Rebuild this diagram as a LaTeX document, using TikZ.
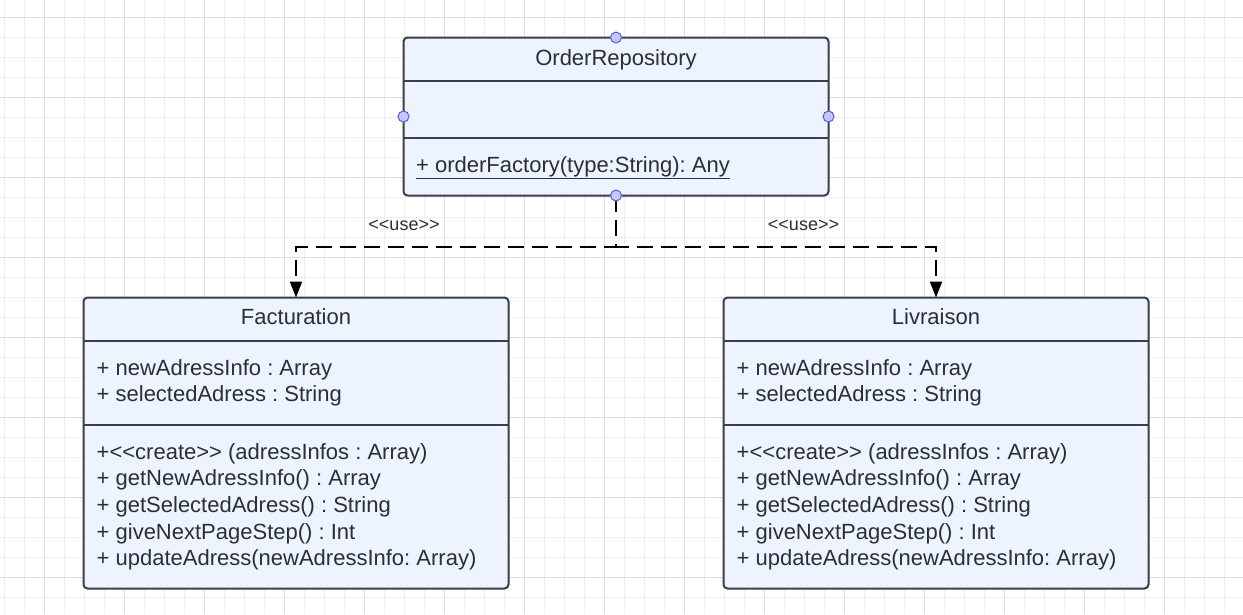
\documentclass[tikz,border=0pt]{standalone}
\usepackage{fontspec}
\setmainfont{Liberation Sans}[Ligatures=TeXOff]
\usetikzlibrary{arrows.meta}
\definecolor{boxfill}{HTML}{EDF4FF}
\definecolor{boxline}{HTML}{3A3F47}
\definecolor{txt}{HTML}{2B2E33}
\definecolor{gridminor}{HTML}{EEEEEE}
\definecolor{gridmajor}{HTML}{DDDDDD}
\definecolor{portfill}{HTML}{C5C5FF}
\definecolor{portline}{HTML}{5B5BDB}
\frenchspacing
\begin{document}
\frenchspacing
\begin{tikzpicture}[x=1pt,y=-1pt,
  classbox/.style={draw=boxline, fill=boxfill, line width=2pt, rounded corners=4pt,
    rectangle, minimum width=425pt, inner sep=0pt, outer sep=0pt, anchor=north west},
  divider/.style={draw=boxline, line width=1.6pt},
  member/.style={anchor=base west, inner sep=0pt, font=\fontsize{22}{26}\selectfont\frenchspacing, text=txt},
  ctitle/.style={anchor=base, inner sep=0pt, font=\fontsize{22}{26}\selectfont, text=txt},
  port/.style={circle, draw=portline, fill=portfill, line width=1pt, minimum size=11pt, inner sep=0pt},
  uses/.style={draw=black, line width=2pt, dash pattern=on 16pt off 8pt,
    -{Triangle[length=16pt,width=12pt]}},
  stereo/.style={font=\fontsize{18}{20}\selectfont, text=txt, inner sep=0pt}
]
\useasboundingbox (0,0) rectangle (1243,614);
\fill[white] (0,0) rectangle (1243,614);
% grid
\foreach \x in {4,24,...,1243} \draw[gridminor, line width=1pt] (\x,0) -- (\x,614);
\foreach \y in {17,37,...,614} \draw[gridminor, line width=1pt] (0,\y) -- (1243,\y);
\foreach \x in {44,124,...,1243} \draw[gridmajor, line width=1pt] (\x,0) -- (\x,614);
\foreach \y in {17,97,...,614} \draw[gridmajor, line width=1pt] (0,\y) -- (1243,\y);

% OrderRepository
\node[classbox, minimum height=158pt] (repo) at (403.5,37.5) {};
\draw[divider] (repo.west |- 0,80.7) -- (repo.east |- 0,80.7);
\draw[divider] (repo.west |- 0,138) -- (repo.east |- 0,138);
\node[ctitle] (repoT) at (616,65) {OrderRepository};
\node[member] (repoM) at (416,172) {\underline{+ orderFactory(type:String): Any}};

% Facturation
\node[classbox, minimum height=291pt] (fact) at (83.5,297.5) {};
\draw[divider] (fact.west |- 0,340.7) -- (fact.east |- 0,340.7);
\draw[divider] (fact.west |- 0,424.7) -- (fact.east |- 0,424.7);
\node[ctitle] (factT) at (296,324) {Facturation};
\node[member] (fa1) at (96.5,375) {+ newAdressInfo : Array};
\node[member] (fa2) at (96.5,401.5) {+ selectedAdress : String};
\node[member] (fm1) at (96.5,459) {+<<create>> (adressInfos : Array)};
\node[member] (fm2) at (96.5,485.7) {+ getNewAdressInfo() : Array};
\node[member] (fm3) at (96.5,512.3) {+ getSelectedAdress() : String};
\node[member] (fm4) at (96.5,539) {+ giveNextPageStep() : Int};
\node[member] (fm5) at (96.5,565.7) {+ updateAdress(newAdressInfo: Array)};

% Livraison
\node[classbox, minimum height=291pt] (livr) at (723.5,297.5) {};
\draw[divider] (livr.west |- 0,340.7) -- (livr.east |- 0,340.7);
\draw[divider] (livr.west |- 0,424.7) -- (livr.east |- 0,424.7);
\node[ctitle] (livrT) at (936,324) {Livraison};
\node[member] (la1) at (736.5,375) {+ newAdressInfo : Array};
\node[member] (la2) at (736.5,401.5) {+ selectedAdress : String};
\node[member] (lm1) at (736.5,459) {+<<create>> (adressInfos : Array)};
\node[member] (lm2) at (736.5,485.7) {+ getNewAdressInfo() : Array};
\node[member] (lm3) at (736.5,512.3) {+ getSelectedAdress() : String};
\node[member] (lm4) at (736.5,539) {+ giveNextPageStep() : Int};
\node[member] (lm5) at (736.5,565.7) {+ updateAdress(newAdressInfo: Array)};

% connectors
\coordinate (j) at (616,247);
\draw[uses] (repo.south) -- (j) -| (fact.north);
\draw[uses] (repo.south) -- (j) -| (livr.north);
\node[stereo] (use1) at (404,225) {<<use>>};
\node[stereo] (use2) at (803.5,225) {<<use>>};

% ports
\node[port] (pN) at (repo.north) {};
\node[port] (pS) at (repo.south) {};
\node[port] (pW) at (repo.west) {};
\node[port] (pE) at (repo.east) {};
\end{tikzpicture}
\end{document}
